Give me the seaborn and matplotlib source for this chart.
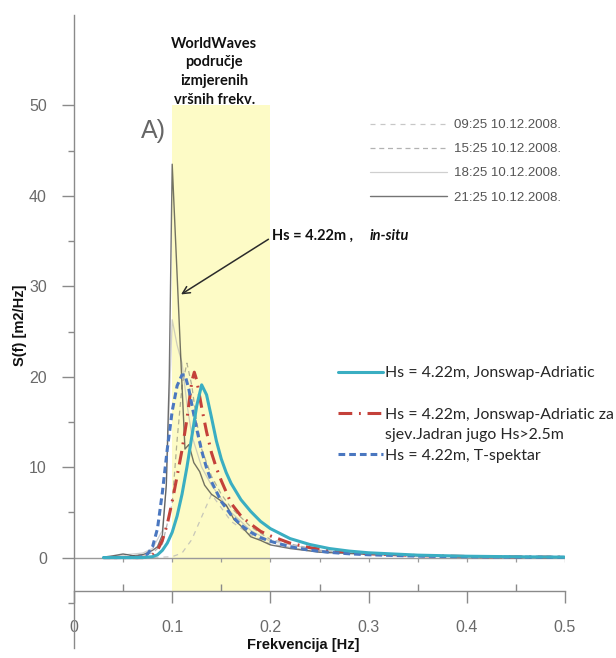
import numpy as np
import matplotlib
matplotlib.use("Agg")
import matplotlib.pyplot as plt
import seaborn as sns
from matplotlib.lines import Line2D
from matplotlib.ticker import FixedLocator, FuncFormatter

# ------------------------------------------------------------------
# measured in-situ spectra (grey), frequency [Hz] / S(f) [m2/Hz]
# ------------------------------------------------------------------
F_0925 = [0.03, 0.08, 0.10, 0.11, 0.12, 0.13, 0.14, 0.15, 0.16, 0.18, 0.20, 0.25, 0.30, 0.40, 0.50]
S_0925 = [0.0, 0.0, 0.1, 0.5, 2.0, 4.5, 7.0, 5.5, 4.0, 2.5, 1.5, 0.6, 0.3, 0.1, 0.05]

F_1525 = [0.03, 0.06, 0.08, 0.09, 0.10, 0.105, 0.11, 0.115, 0.12, 0.125, 0.13, 0.14, 0.15, 0.16,
          0.18, 0.20, 0.25, 0.30, 0.40, 0.50]
S_1525 = [0.0, 0.2, 0.5, 1.5, 6.0, 13.0, 19.0, 21.5, 19.0, 15.0, 12.0, 9.0, 7.0, 5.5,
          3.4, 2.0, 0.8, 0.4, 0.15, 0.05]

F_1825 = [0.03, 0.05, 0.07, 0.08, 0.09, 0.094, 0.097, 0.10, 0.105, 0.11, 0.115, 0.12, 0.13, 0.14,
          0.15, 0.16, 0.18, 0.20, 0.25, 0.30, 0.40, 0.50]
S_1825 = [0.0, 0.3, 0.5, 1.0, 3.0, 8.0, 17.0, 26.3, 23.5, 21.5, 17.0, 13.5, 10.0, 8.0,
          6.5, 5.0, 3.0, 1.8, 0.8, 0.4, 0.15, 0.05]

F_2125 = [0.03, 0.04, 0.05, 0.06, 0.07, 0.08, 0.085, 0.09, 0.094, 0.097, 0.10, 0.11, 0.113, 0.117,
          0.122, 0.128, 0.133, 0.14, 0.148, 0.155, 0.163, 0.17, 0.18, 0.19, 0.20, 0.22, 0.25,
          0.30, 0.35, 0.40, 0.45, 0.50]
S_2125 = [0.05, 0.2, 0.4, 0.2, 0.3, 0.8, 1.2, 2.5, 8.0, 20.0, 43.5, 19.0, 12.0, 12.5,
          10.5, 9.5, 8.0, 7.0, 6.4, 5.8, 4.2, 3.5, 2.3, 1.9, 1.4, 1.0, 0.6,
          0.35, 0.2, 0.12, 0.08, 0.05]

TIME_LABELS = ["09:25 10.12.2008.", "15:25 10.12.2008.", "18:25 10.12.2008.", "21:25 10.12.2008."]

# ------------------------------------------------------------------
# model spectra, Hs = 4.22 m
# ------------------------------------------------------------------
F_JA = [0.03, 0.07, 0.08, 0.085, 0.09, 0.095, 0.10, 0.105, 0.11, 0.115, 0.12, 0.125, 0.13, 0.135,
        0.14, 0.145, 0.15, 0.155, 0.16, 0.17, 0.18, 0.19, 0.20, 0.22, 0.24, 0.26, 0.28, 0.30,
        0.35, 0.40, 0.45, 0.50]
S_JA = [0.0, 0.0, 0.1, 0.3, 0.8, 1.6, 2.8, 4.6, 7.0, 10.0, 13.4, 16.8, 19.1, 18.0,
        15.5, 12.9, 10.9, 9.4, 8.2, 6.4, 5.1, 4.0, 3.2, 2.1, 1.45, 1.0, 0.72, 0.53,
        0.27, 0.15, 0.09, 0.05]

F_JAN = [0.03, 0.07, 0.075, 0.08, 0.085, 0.09, 0.095, 0.10, 0.105, 0.11, 0.115, 0.12, 0.1225, 0.125,
         0.13, 0.135, 0.14, 0.145, 0.15, 0.16, 0.17, 0.18, 0.19, 0.20, 0.22, 0.24, 0.26, 0.28,
         0.30, 0.35, 0.40, 0.45, 0.50]
S_JAN = [0.0, 0.0, 0.1, 0.3, 0.8, 1.9, 3.7, 6.2, 9.0, 11.9, 15.3, 19.5, 20.5, 19.6,
         16.6, 13.9, 11.6, 9.9, 8.5, 6.0, 4.6, 3.7, 2.9, 2.4, 1.6, 1.1, 0.8, 0.58,
         0.43, 0.22, 0.12, 0.07, 0.04]

F_TS = [0.03, 0.065, 0.07, 0.075, 0.08, 0.085, 0.09, 0.095, 0.10, 0.105, 0.11, 0.113, 0.117, 0.12,
        0.125, 0.13, 0.135, 0.14, 0.15, 0.16, 0.17, 0.18, 0.19, 0.20, 0.22, 0.24, 0.26, 0.28,
        0.30, 0.35, 0.40, 0.45, 0.50]
S_TS = [0.0, 0.0, 0.1, 0.4, 1.2, 3.2, 7.2, 12.0, 16.2, 19.0, 20.2, 20.2, 18.6, 16.9,
        14.2, 11.8, 9.9, 8.4, 6.2, 4.7, 3.6, 2.8, 2.2, 1.8, 1.2, 0.82, 0.58, 0.42,
        0.31, 0.16, 0.09, 0.05, 0.03]

MODEL_LABELS = ["Hs = 4.22m, Jonswap-Adriatic",
                "Hs = 4.22m, Jonswap-Adriatic za",
                "Hs = 4.22m, T-spektar"]
MODEL_LABEL_CONT = "sjev.Jadran jugo Hs>2.5m"

# WorldWaves band of measured peak frequencies
BAND_F = [0.1, 0.2]
BAND_TOP = 50
AXIS_Y = -3.75

X_MAJOR = [0, 0.1, 0.2, 0.3, 0.4, 0.5]
X_MINOR = [0.05, 0.15, 0.25, 0.35, 0.45]
Y_MAJOR = [0, 10, 20, 30, 40, 50]
Y_MINOR = [-5, 5, 15, 25, 35, 45]

# ------------------------------------------------------------------
# styling
# ------------------------------------------------------------------
C_JA = "#3aaec2"
C_JAN = "#c4413a"
C_TS = "#4a77c0"
TICK_GREY = "#6a6a6a"
SPINE_GREY = "#8a8a8a"
BAND_YELLOW = "#fdfbc6"
CALIBRI_LIKE = ["Lato", "DejaVu Sans"]

sns.set_style("ticks")
plt.rcParams["font.family"] = ["Liberation Sans", "DejaVu Sans"]

fig = plt.figure(figsize=(6.16, 6.58), dpi=100)
ax = fig.add_axes([74 / 616, 10 / 658, 491 / 616, 633 / 658])
ax.set_xlim(0, 0.5)
ax.set_ylim(-10, 60)

# yellow band
ax.fill_between(BAND_F, AXIS_Y, BAND_TOP, color=BAND_YELLOW, lw=0, zorder=0)

# zero line with its little ticks (left over from the original axes)
ax.axhline(0, color="#9a9a9a", lw=1.0, zorder=1)
ax.vlines(X_MINOR + X_MAJOR[1:], -0.45, 0, color="#9a9a9a", lw=0.9, zorder=1)

# grey measured spectra
grey_specs = [
    (F_0925, S_0925, "#b5b5b5", (0, (4, 4)), 0.9, 0.75),
    (F_1525, S_1525, "#555555", (0, (4, 3)), 0.9, 0.45),
    (F_1825, S_1825, "#b0b0b0", "-", 0.9, 0.6),
    (F_2125, S_2125, "#2a2a2a", "-", 1.0, 0.65),
]
grey_lines = []
for (f, s, col, ls, lw, al), lab in zip(grey_specs, TIME_LABELS):
    sns.lineplot(x=f, y=s, ax=ax, color=col, linestyle=ls, linewidth=lw, alpha=al,
                 estimator=None, sort=False, zorder=2)
    grey_lines.append(ax.lines[-1])

# model spectra
sns.lineplot(x=F_JA, y=S_JA, ax=ax, color=C_JA, linewidth=2.2, estimator=None, sort=False, zorder=5)
line_ja = ax.lines[-1]
sns.lineplot(x=F_JAN, y=S_JAN, ax=ax, color=C_JAN, linewidth=2.2, linestyle=(0, (4.5, 2.2, 0.6, 2.2)),
             estimator=None, sort=False, zorder=4)
line_jan = ax.lines[-1]
sns.lineplot(x=F_TS, y=S_TS, ax=ax, color=C_TS, linewidth=2.2, linestyle=(0, (2.2, 1.3)),
             estimator=None, sort=False, zorder=4)
line_ts = ax.lines[-1]

# axes look
for side in ["top", "right"]:
    ax.spines[side].set_visible(False)
for side in ["left", "bottom"]:
    ax.spines[side].set_color(SPINE_GREY)
    ax.spines[side].set_linewidth(1.0)
ax.spines["bottom"].set_position(("data", AXIS_Y))

ax.xaxis.set_major_locator(FixedLocator(X_MAJOR))
ax.xaxis.set_minor_locator(FixedLocator(X_MINOR))
ax.yaxis.set_major_locator(FixedLocator(Y_MAJOR))
ax.yaxis.set_minor_locator(FixedLocator(Y_MINOR))
ax.xaxis.set_major_formatter(FuncFormatter(lambda v, p: f"{v:g}"))
ax.tick_params(which="both", bottom=True, left=True, top=False, right=False)
ax.tick_params(axis="x", which="major", direction="out", length=8.5, width=1.0,
               color=SPINE_GREY, labelcolor=TICK_GREY, labelsize=11.5, pad=12)
ax.tick_params(axis="x", which="minor", direction="in", length=5, width=1.0, color=SPINE_GREY)
ax.tick_params(axis="y", which="major", direction="out", length=8.5, width=1.0,
               color=SPINE_GREY, labelcolor=TICK_GREY, labelsize=11.5, pad=11)
ax.tick_params(axis="y", which="minor", direction="out", length=4, width=1.0, color=SPINE_GREY)
ax.set_xlabel("")
ax.set_ylabel("")

fig.text(303 / 616, 1 - 645 / 658, "Frekvencija [Hz]", ha="center", va="center",
         fontsize=10.5, fontweight="bold", color="#111111")
fig.text(20 / 616, 1 - 325 / 658, "S(f) [m2/Hz]", ha="center", va="center", rotation=90,
         fontsize=10.5, fontweight="bold", color="#111111")

# annotations
ax.text(0.081, 47.2, "A)", fontsize=18, color="#666666", ha="center", va="center")
ax.text(0.143, 53.7, "WorldWaves\npodručje\nizmjerenih\nvršnih frekv.", ha="center", va="center",
        fontsize=10.5, fontweight="bold", family=CALIBRI_LIKE, linespacing=1.45,
        color="#111111")
t1 = ax.text(0.202, 35.6, "Hs = 4.22m ,", ha="left", va="center", fontsize=10.5,
             fontweight="bold", family=CALIBRI_LIKE, color="#111111")
ax.annotate("in-situ", xy=(1, 0), xycoords=t1, xytext=(12, 0), textcoords="offset points",
            ha="left", va="bottom", fontsize=10.5, fontweight="bold", fontstyle="italic",
            family=CALIBRI_LIKE, color="#111111")
ax.annotate("", xy=(0.109, 29.1), xytext=(0.198, 35.2),
            arrowprops=dict(arrowstyle="->", color="#2b2b2b", lw=1.1, shrinkA=0, shrinkB=0,
                            mutation_scale=13))

# legend of measured spectra
leg1 = ax.legend(grey_lines, TIME_LABELS, loc="upper left",
                 bbox_to_anchor=(370 / 616, 1 - 119 / 658), bbox_transform=fig.transFigure,
                 frameon=False, borderpad=0, borderaxespad=0, handlelength=5.8,
                 handletextpad=0.6, labelspacing=0.9,
                 prop={"family": ["Liberation Sans Narrow", "Liberation Sans"], "size": 9.5})
for t in leg1.get_texts():
    t.set_color("#555555")
ax.add_artist(leg1)

# legend of model spectra (blank rows keep the spacing of the original)
blank = Line2D([], [], color="none")
leg2 = ax.legend([line_ja, blank, line_jan, blank, line_ts],
                 [MODEL_LABELS[0], " ", MODEL_LABELS[1], MODEL_LABEL_CONT, MODEL_LABELS[2]],
                 loc="upper left", bbox_to_anchor=(338 / 616, 1 - 366 / 658),
                 bbox_transform=fig.transFigure, frameon=False, borderpad=0, borderaxespad=0,
                 handlelength=2.85, handletextpad=0.1, labelspacing=0.42,
                 prop={"family": CALIBRI_LIKE, "size": 11.4})

fig.savefig("out.png", dpi=100)
